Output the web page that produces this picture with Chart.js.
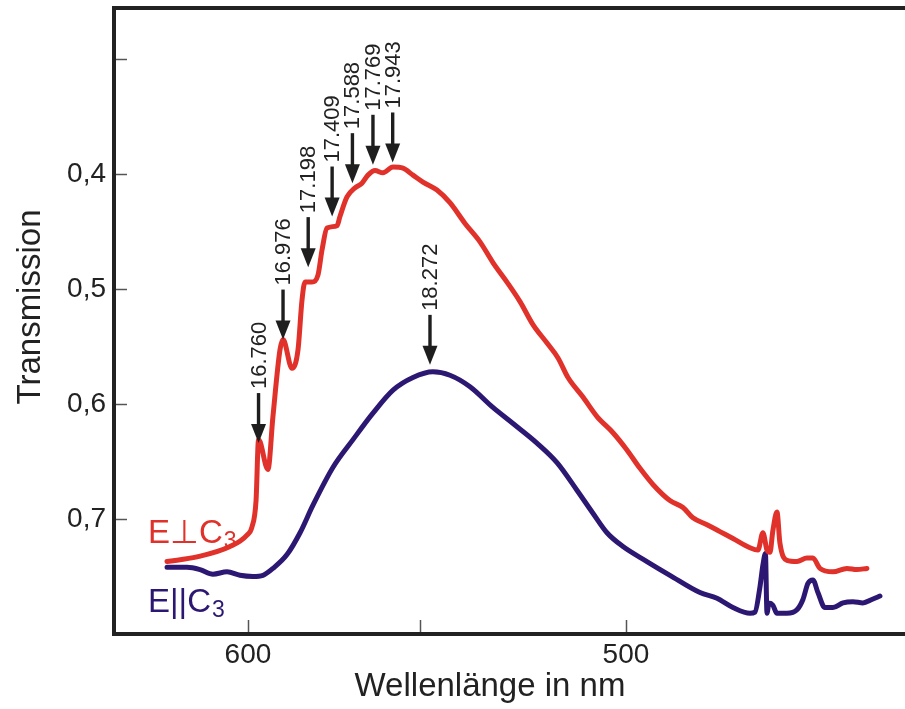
<!DOCTYPE html>
<html>
<head>
<meta charset="utf-8">
<script src="https://cdn.jsdelivr.net/npm/chart.js@4.4.1/dist/chart.umd.min.js"></script>
<style>
  html, body { margin: 0; padding: 0; background: #fff; }
</style>
</head>
<body>
<canvas id="espectro" width="905" height="709"></canvas>
<script>
// Número de onda en 10^3 cm^-1 (eje lineal en energía) y transmisión
const rojoNu = [15.953, 16.217, 16.508, 16.658, 16.702, 16.738, 16.760, 16.843, 16.887, 16.949,
  16.976, 17.055, 17.108, 17.143, 17.170, 17.231, 17.284, 17.320, 17.364, 17.452,
  17.478, 17.540, 17.611, 17.672, 17.725, 17.787, 17.857, 17.946, 18.034, 18.122,
  18.210, 18.334, 18.448, 18.581, 18.713, 18.827, 18.951, 19.066, 19.180, 19.304,
  19.401, 19.489, 19.621, 19.745, 19.886, 20.009, 20.124, 20.238, 20.388, 20.503,
  20.591, 20.715, 20.829, 20.944, 21.094, 21.164, 21.208, 21.244, 21.270, 21.296,
  21.332, 21.358, 21.420, 21.508, 21.596, 21.649, 21.711, 21.826, 21.949, 22.037, 22.125];
const rojoT = [0.737, 0.733, 0.724, 0.714, 0.707, 0.684, 0.631, 0.657, 0.611, 0.553,
  0.544, 0.569, 0.553, 0.510, 0.494, 0.494, 0.488, 0.466, 0.447, 0.445,
  0.437, 0.420, 0.412, 0.408, 0.401, 0.397, 0.399, 0.394, 0.395, 0.401,
  0.407, 0.414, 0.425, 0.443, 0.459, 0.477, 0.494, 0.511, 0.531, 0.547,
  0.560, 0.577, 0.594, 0.611, 0.625, 0.640, 0.656, 0.670, 0.684, 0.690,
  0.699, 0.705, 0.711, 0.717, 0.725, 0.727, 0.712, 0.727, 0.729, 0.710,
  0.694, 0.721, 0.736, 0.737, 0.734, 0.734, 0.743, 0.746, 0.743, 0.744, 0.743];

const azulNu = [15.953, 16.129, 16.244, 16.358, 16.482, 16.596, 16.711, 16.799, 16.887, 17.011,
  17.126, 17.240, 17.417, 17.593, 17.769, 17.946, 18.122, 18.298, 18.448, 18.625,
  18.827, 19.004, 19.215, 19.392, 19.568, 19.709, 19.833, 19.974, 20.185, 20.388,
  20.653, 20.803, 20.944, 21.094, 21.138, 21.182, 21.208, 21.230, 21.244, 21.261,
  21.296, 21.332, 21.420, 21.508, 21.561, 21.605, 21.649, 21.693, 21.755, 21.826,
  21.914, 22.002, 22.090, 22.169, 22.240];
const azulT = [0.742, 0.742, 0.744, 0.748, 0.746, 0.749, 0.750, 0.749, 0.743, 0.731,
  0.712, 0.688, 0.655, 0.631, 0.608, 0.588, 0.577, 0.572, 0.575, 0.585,
  0.603, 0.617, 0.634, 0.651, 0.675, 0.695, 0.712, 0.724, 0.737, 0.749,
  0.764, 0.769, 0.777, 0.782, 0.781, 0.759, 0.740, 0.730, 0.782, 0.773,
  0.775, 0.782, 0.782, 0.779, 0.770, 0.756, 0.753, 0.764, 0.777, 0.777,
  0.773, 0.772, 0.773, 0.770, 0.767];

// Marcas de los ejes
const ticksNm = [600, 550, 500];
const etiquetasNm = ['600', '', '500'];
const ticksT = [0.3, 0.4, 0.5, 0.6, 0.7];
const etiquetasT = ['', '0,4', '0,5', '0,6', '0,7'];

// Bandas señaladas con flechas (número de onda y nivel de la punta)
const bandas = ['16.760', '16.976', '17.198', '17.409', '17.588', '17.769', '17.943', '18.272'];
const bandasNu = [16.760, 16.976, 17.198, 17.409, 17.588, 17.769, 17.943, 18.272];
const bandasT = [0.634, 0.544, 0.481, 0.437, 0.408, 0.392, 0.390, 0.566];

const ROJO = '#e0322a';
const AZUL = '#2c1872';
const TINTA = '#222222';
const FUENTE = '"Liberation Sans", Arial, sans-serif';

Chart.defaults.font.family = FUENTE;
Chart.defaults.color = TINTA;

// Sin márgenes extra por las etiquetas: el área queda fija
function fijarEscala(escala, ancho, alto) {
  if (ancho) escala.width = ancho;
  if (alto) escala.height = alto;
  escala.paddingTop = 0;
  escala.paddingBottom = 0;
  escala.paddingLeft = 0;
  escala.paddingRight = 0;
}

// Marco, marcas hacia dentro, flechas, títulos y rótulos de las curvas
const decoracion = {
  id: 'decoracion',
  afterDraw(chart) {
    const { ctx, chartArea: area, scales: { x, y } } = chart;
    ctx.save();

    // marcas interiores
    ctx.strokeStyle = '#555';
    ctx.lineWidth = 1.5;
    ticksT.forEach(v => {
      const py = Math.round(y.getPixelForValue(v)) + 0.5;
      ctx.beginPath(); ctx.moveTo(area.left, py); ctx.lineTo(area.left + 11, py); ctx.stroke();
    });
    ticksNm.forEach(nm => {
      const px = Math.round(x.getPixelForValue(1e4 / nm)) + 0.5;
      ctx.beginPath(); ctx.moveTo(px, area.bottom); ctx.lineTo(px, area.bottom - 12); ctx.stroke();
    });

    // marco (izquierda, arriba, abajo)
    ctx.strokeStyle = TINTA;
    ctx.lineWidth = 4;
    ctx.beginPath();
    ctx.moveTo(chart.width, area.top - 2);
    ctx.lineTo(area.left - 2, area.top - 2);
    ctx.lineTo(area.left - 2, area.bottom + 2);
    ctx.lineTo(chart.width, area.bottom + 2);
    ctx.stroke();

    // flechas con su número de onda
    ctx.fillStyle = '#1e1e1e';
    ctx.strokeStyle = '#1e1e1e';
    bandasNu.forEach((nu, i) => {
      const px = x.getPixelForValue(nu);
      const punta = y.getPixelForValue(bandasT[i]);
      const arriba = punta - 50;
      ctx.lineWidth = 3.4;
      ctx.beginPath(); ctx.moveTo(px, arriba); ctx.lineTo(px, punta - 15); ctx.stroke();
      ctx.beginPath();
      ctx.moveTo(px - 7.5, punta - 19);
      ctx.lineTo(px + 7.5, punta - 19);
      ctx.lineTo(px, punta);
      ctx.closePath();
      ctx.fill();

      ctx.save();
      ctx.translate(px, arriba - 4);
      ctx.rotate(-Math.PI / 2);
      ctx.font = '22px ' + FUENTE;
      ctx.fillStyle = TINTA;
      ctx.textAlign = 'left';
      ctx.textBaseline = 'middle';
      ctx.fillText(bandas[i], 0, 1);
      ctx.restore();
    });

    // títulos de los ejes
    ctx.fillStyle = TINTA;
    ctx.font = '33px ' + FUENTE;
    ctx.textAlign = 'center';
    ctx.textBaseline = 'alphabetic';
    ctx.fillText('Wellenlänge in nm', 490, 696);
    ctx.save();
    ctx.translate(40, 307);
    ctx.rotate(-Math.PI / 2);
    ctx.fillText('Transmission', 0, 0);
    ctx.restore();

    // rótulos de las curvas con subíndice
    const rotulo = (texto, color, base) => {
      ctx.fillStyle = color;
      ctx.textAlign = 'left';
      ctx.font = '33px ' + FUENTE;
      ctx.fillText(texto, 148, base);
      const ancho = ctx.measureText(texto).width;
      ctx.font = '23px ' + FUENTE;
      ctx.fillText('3', 148 + ancho + 1, base + 5);
    };
    rotulo('E\u22A5C', ROJO, 543);
    rotulo('E||C', AZUL, 612);

    ctx.restore();
  }
};

const ctx = document.getElementById('espectro').getContext('2d');

new Chart(ctx, {
  type: 'line',
  data: {
    datasets: [
      {
        label: 'E⊥C3',
        data: rojoNu.map((nu, i) => ({ x: nu, y: rojoT[i] })),
        borderColor: ROJO,
        borderWidth: 5,
        cubicInterpolationMode: 'monotone',
        borderCapStyle: 'round',
        borderJoinStyle: 'round',
        pointRadius: 0,
        fill: false
      },
      {
        label: 'E||C3',
        data: azulNu.map((nu, i) => ({ x: nu, y: azulT[i] })),
        borderColor: AZUL,
        borderWidth: 5,
        cubicInterpolationMode: 'monotone',
        borderCapStyle: 'round',
        borderJoinStyle: 'round',
        pointRadius: 0,
        fill: false
      }
    ]
  },
  options: {
    responsive: false,
    animation: false,
    layout: { padding: { top: 10, right: 0, bottom: 0, left: 0 } },
    plugins: { legend: { display: false }, tooltip: { enabled: false } },
    scales: {
      x: {
        type: 'linear',
        min: 15.503,
        max: 22.461,
        grid: { display: false, drawTicks: false },
        border: { display: false },
        afterBuildTicks: escala => { escala.ticks = ticksNm.map(nm => ({ value: 1e4 / nm })); },
        afterFit: escala => fijarEscala(escala, 0, 77),
        ticks: {
          autoSkip: false,
          maxRotation: 0,
          padding: 6,
          color: TINTA,
          font: { size: 28 },
          callback: (valor, indice) => etiquetasNm[indice]
        }
      },
      y: {
        reverse: true,
        min: 0.2574,
        max: 0.7983,
        grid: { display: false, drawTicks: false },
        border: { display: false },
        afterBuildTicks: escala => { escala.ticks = ticksT.map(v => ({ value: v })); },
        afterFit: escala => fijarEscala(escala, 116, 0),
        ticks: {
          autoSkip: false,
          padding: 10,
          color: TINTA,
          font: { size: 28 },
          callback: (valor, indice) => etiquetasT[indice]
        }
      }
    }
  },
  plugins: [decoracion]
});
</script>
</body>
</html>
